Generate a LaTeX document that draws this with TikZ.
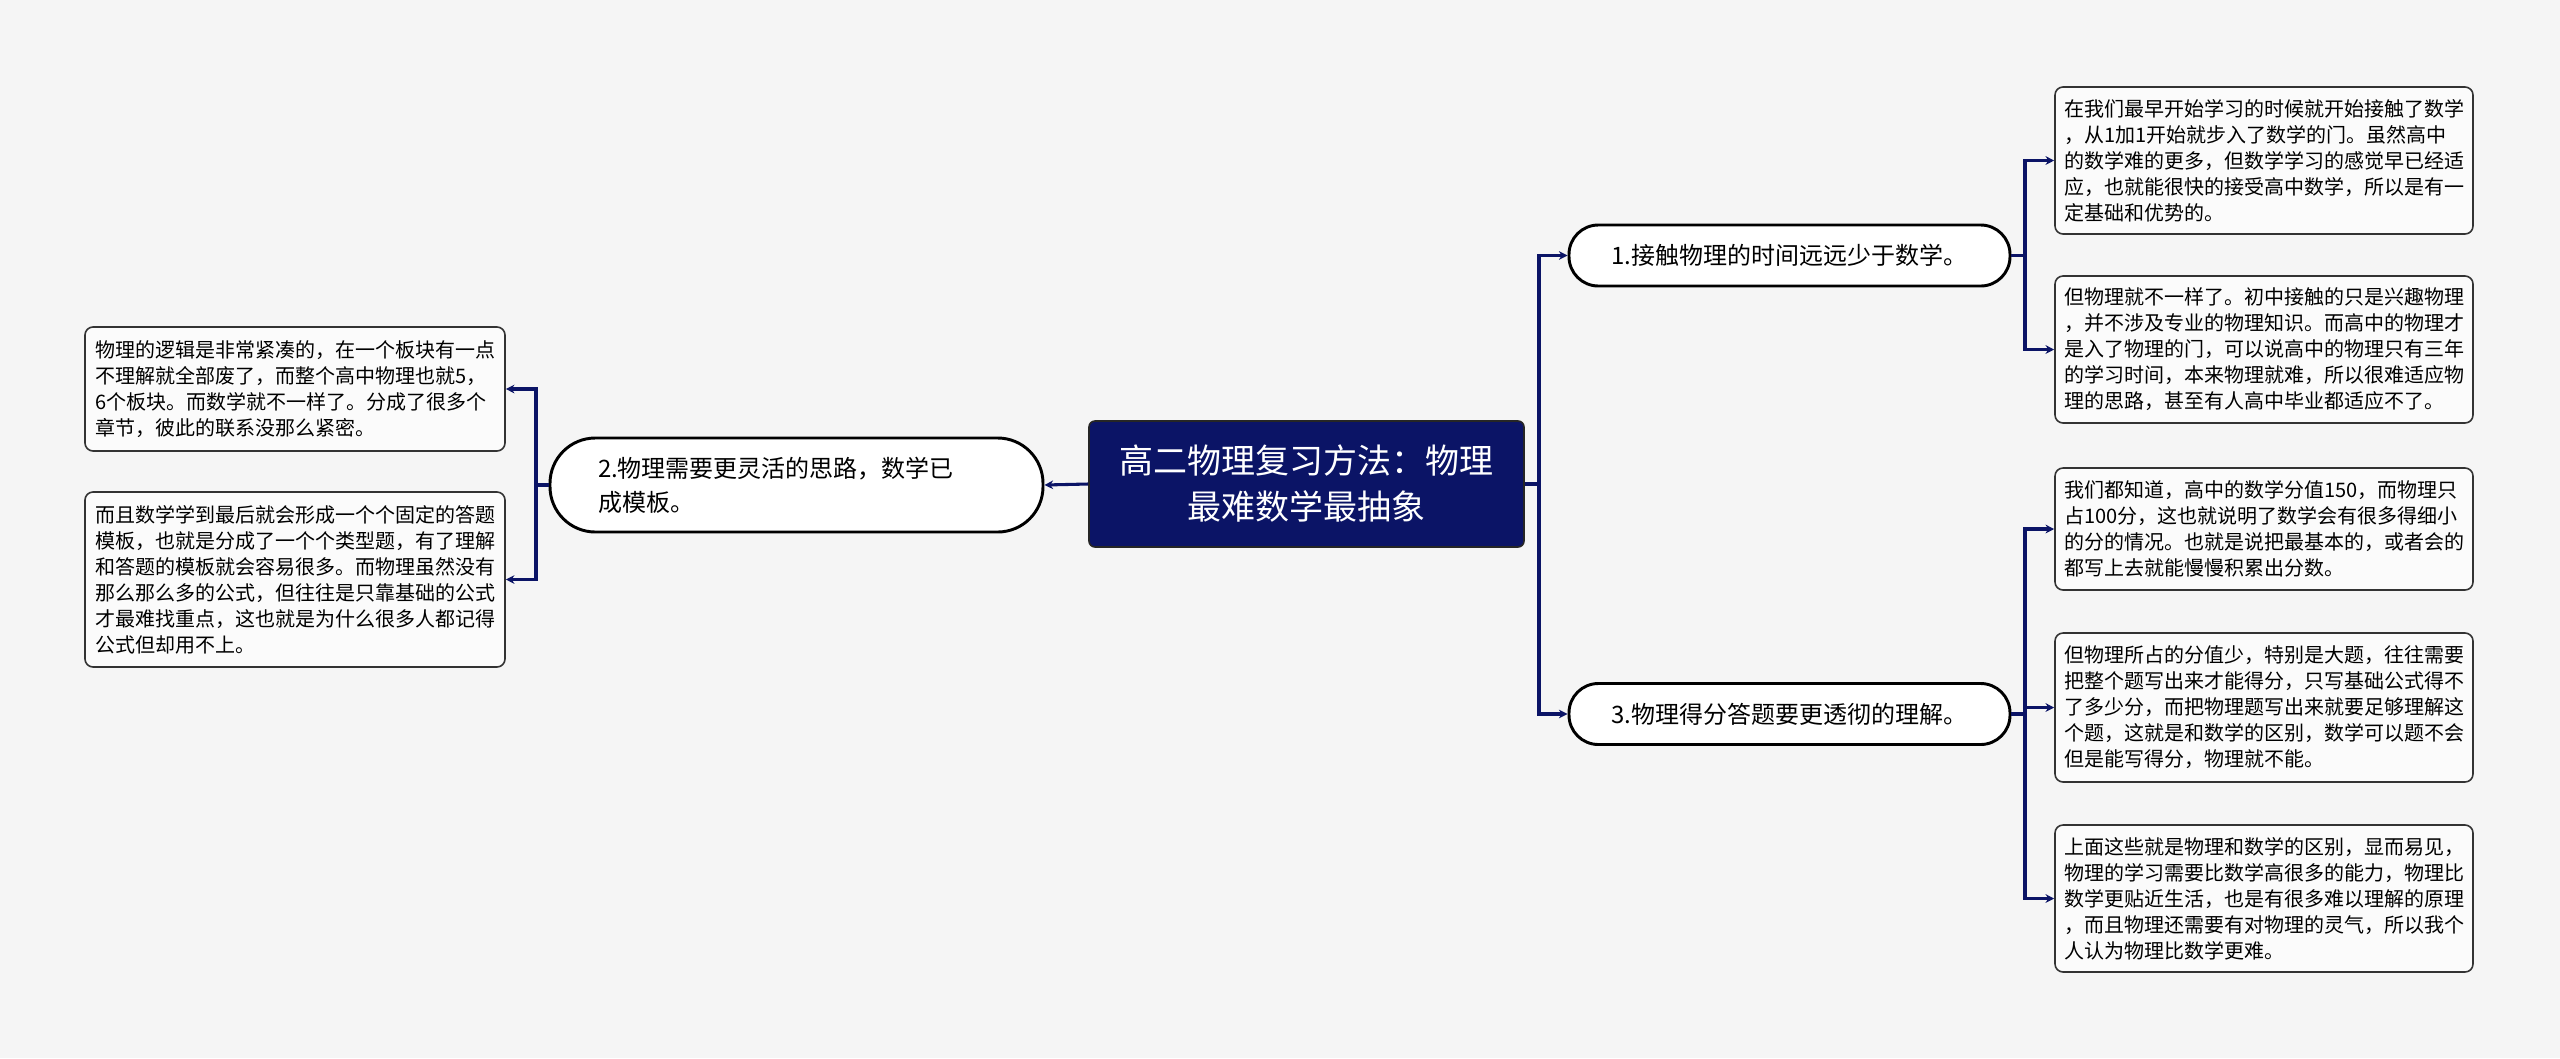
\documentclass[tikz,border=0pt]{standalone}
\usepackage{fontspec}
\setmainfont{Noto Sans CJK SC}
\usetikzlibrary{arrows.meta}
\definecolor{navy}{HTML}{0B1466}
\definecolor{bgc}{HTML}{F5F5F5}
\definecolor{leafline}{HTML}{333333}
\tikzset{
  conn/.style={draw=navy, line width=2.3pt},
  arr/.style={conn, -{Stealth[length=6.5pt,width=6.5pt]}},
  rootbox/.style={draw=black!85, line width=1.2pt, fill=navy, rounded corners=4.5pt,
    minimum width=326.25pt, minimum height=94.5pt, text=white, align=center,
    font=\fontsize{25.5pt}{34.5pt}\selectfont, inner sep=0pt},
  pill/.style={draw=black, line width=2.2pt, fill=white, rounded corners=22pt,
    minimum width=330.75pt, minimum height=45.75pt, align=center,
    font=\fontsize{18pt}{25.5pt}\selectfont, inner sep=0pt},
  leaf/.style={draw=leafline, line width=1.2pt, fill=bgc!40!white, rounded corners=6pt,
    align=left, font=\fontsize{15pt}{19.5pt}\selectfont, inner sep=0pt},
}
\begin{document}
\begin{tikzpicture}[x=0.75pt,y=-0.75pt]
\fill[bgc] (0,0) rectangle (2560,1058);
\useasboundingbox (0,0) rectangle (2560,1058);

% root
\node[rootbox] (c) at (1306.5,484) {高二物理复习方法：物理\\最难数学最抽象};

% branch 2 (left)
\node[pill, minimum width=369.75pt, minimum height=70.5pt, rounded corners=34pt,
  text width=297.75pt, align=left] (n2) at (796.5,485)
  {2.物理需要更灵活的思路，数学已\\成模板。};

% branches 1 and 3 (right)
\node[pill] (n1) at (1789.5,255.5) {1.接触物理的时间远远少于数学。};
\node[pill] (n3) at (1789.5,714) {3.物理得分答题要更透彻的理解。};

% left leaves
\node[leaf, minimum width=315pt, minimum height=93pt] (la) at (295,389)
  {物理的逻辑是非常紧凑的，在一个板块有一点\\不理解就全部废了，而整个高中物理也就5，\\6个板块。而数学就不一样了。分成了很多个\\章节，彼此的联系没那么紧密。};
\node[leaf, minimum width=315pt, minimum height=131.25pt] (lb) at (295,579.5)
  {而且数学学到最后就会形成一个个固定的答题\\模板，也就是分成了一个个类型题，有了理解\\和答题的模板就会容易很多。而物理虽然没有\\那么那么多的公式，但往往是只靠基础的公式\\才最难找重点，这也就是为什么很多人都记得\\公式但却用不上。};

% right leaves
\node[leaf, minimum width=313.5pt, minimum height=110.25pt] (r1) at (2264,160.5)
  {在我们最早开始学习的时候就开始接触了数学\\，从1加1开始就步入了数学的门。虽然高中\\的数学难的更多，但数学学习的感觉早已经适\\应，也就能很快的接受高中数学，所以是有一\\定基础和优势的。};
\node[leaf, minimum width=313.5pt, minimum height=110.25pt] (r2) at (2264,349.5)
  {但物理就不一样了。初中接触的只是兴趣物理\\，并不涉及专业的物理知识。而高中的物理才\\是入了物理的门，可以说高中的物理只有三年\\的学习时间，本来物理就难，所以很难适应物\\理的思路，甚至有人高中毕业都适应不了。};
\node[leaf, minimum width=313.5pt, minimum height=91.5pt] (r3) at (2264,529)
  {我们都知道，高中的数学分值150，而物理只\\占100分，这也就说明了数学会有很多得细小\\的分的情况。也就是说把最基本的，或者会的\\都写上去就能慢慢积累出分数。};
\node[leaf, minimum width=313.5pt, minimum height=111.75pt] (r4) at (2264,707.5)
  {但物理所占的分值少，特别是大题，往往需要\\把整个题写出来才能得分，只写基础公式得不\\了多少分，而把物理题写出来就要足够理解这\\个题，这就是和数学的区别，数学可以题不会\\但是能写得分，物理就不能。};
\node[leaf, minimum width=313.5pt, minimum height=110.25pt] (r5) at (2264,898.5)
  {上面这些就是物理和数学的区别，显而易见，\\物理的学习需要比数学高很多的能力，物理比\\数学更贴近生活，也是有很多难以理解的原理\\，而且物理还需要有对物理的灵气，所以我个\\人认为物理比数学更难。};

% junctions
\coordinate (lj) at (536,485);
\coordinate (rj) at (1539,484);
\coordinate (j1) at (2025,255.5);
\coordinate (j3) at (2025,714);

% connectors
\draw[arr] (c.west) -- (n2.east);
\draw[conn] (n2.west) -- (lj);
\draw[arr] (lj) |- (la.east);
\draw[arr] (lj) |- (lb.east);

\draw[conn] (c.east) -- (rj);
\draw[arr] (rj) |- (n1.west);
\draw[arr] (rj) |- (n3.west);

\draw[conn] (n1.east) -- (j1);
\draw[arr] (j1) |- (r1.west);
\draw[arr] (j1) |- (r2.west);

\draw[conn] (n3.east) -- (j3);
\draw[arr] (j3) |- (r3.west);
\draw[arr] (j3) |- (r4.west);
\draw[arr] (j3) |- (r5.west);
\end{tikzpicture}
\end{document}
